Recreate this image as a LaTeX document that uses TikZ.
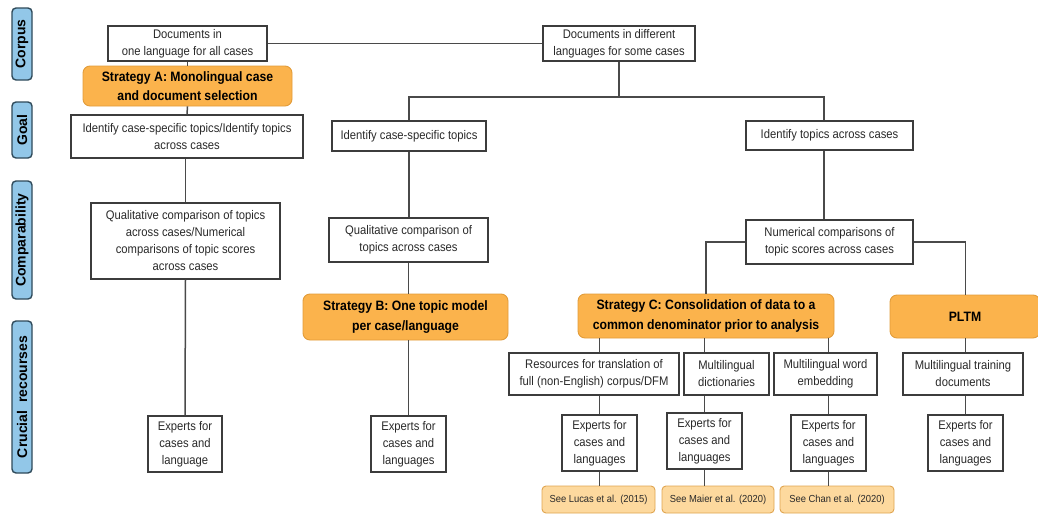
\documentclass[tikz,border=0pt]{standalone}
\usepackage{fontspec}
\setmainfont{Liberation Sans}[FakeStretch=0.9]
\newfontfamily\sidefont{Liberation Sans}
\newfontfamily\citefont{Liberation Sans}[FakeStretch=0.92]
\usetikzlibrary{calc}
\definecolor{orfill}{HTML}{FBB34C}
\definecolor{ordraw}{HTML}{E29C3A}
\definecolor{citfill}{HTML}{FDD99E}
\definecolor{citdraw}{HTML}{E0A550}
\definecolor{bluefill}{HTML}{92C7E8}
\definecolor{bluedraw}{HTML}{2F4A5A}
\definecolor{boxdraw}{HTML}{3C3C3C}
\definecolor{linecol}{HTML}{4A4A4A}
\definecolor{txt}{HTML}{2A2A2A}
\tikzset{
  box/.style={draw=boxdraw, line width=1.4pt, fill=white, inner sep=0pt, align=center,
    text=txt, font=\fontsize{12.5}{17}\selectfont},
  strat/.style={draw=ordraw, line width=0.9pt, fill=orfill, rounded corners=7pt, inner sep=0pt,
    align=center, text=black, font=\fontsize{13.6}{19.5}\selectfont\bfseries},
  cite/.style={draw=citdraw, line width=0.9pt, fill=citfill, rounded corners=4pt, inner sep=0pt,
    align=center, text=txt, font=\citefont\fontsize{10.2}{12}\selectfont},
  side/.style={draw=bluedraw, line width=1.4pt, fill=bluefill, rounded corners=4pt, inner sep=0pt,
    rotate=90, minimum height=20pt, text=black, font=\sidefont\fontsize{14}{16}\selectfont\bfseries},
  conn/.style={draw=linecol, line width=1.5pt}
}
\begin{document}
\begin{tikzpicture}[x=1pt,y=-1pt]
\clip (0,0) rectangle (1038,514);
\fill[white] (0,0) rectangle (1038,514);

% side labels
\node[side, minimum width=72pt] (lcorpus) at (22,44) {Corpus};
\node[side, minimum width=56pt] (lgoal) at (22,130) {Goal};
\node[side, minimum width=118pt] (lcomp) at (22,240) {Comparability};
\node[side, minimum width=152pt] (lcruc) at (22,397) {Crucial~~recourses};

% corpus row
\node[box, minimum width=159pt, minimum height=35pt] (docone) at (187.5,43.5) {Documents in\\one language for all cases};
\node[box, minimum width=152pt, minimum height=35pt] (docdiff) at (619,43.5) {Documents in different\\languages for some cases};

% strategy A column
\node[strat, minimum width=209pt, minimum height=40pt] (stratA) at (187.5,86) {Strategy A: Monolingual case\\and document selection};
\node[box, minimum width=232pt, minimum height=43pt] (goalA) at (187,136.5) {Identify case-specific topics/Identify topics\\across cases};
\node[box, minimum width=189pt, minimum height=76pt] (compA) at (185.5,241) {Qualitative comparison of topics\\across cases/Numerical\\comparisons of topic scores\\across cases};
\node[box, minimum width=74pt, minimum height=56pt] (expA) at (185,444) {Experts for\\cases and\\language};

% strategy B column
\node[box, minimum width=154pt, minimum height=30pt] (goalB) at (409,136) {Identify case-specific topics};
\node[box, minimum width=159pt, minimum height=44pt] (compB) at (408.5,240) {Qualitative comparison of\\topics across cases};
\node[strat, minimum width=205pt, minimum height=46pt] (stratB) at (405.5,317) {Strategy B: One topic model\\per case/language};
\node[box, minimum width=75pt, minimum height=56pt] (expB) at (408.5,444) {Experts for\\cases and\\languages};

% across cases column
\node[box, minimum width=167pt, minimum height=29pt] (goalC) at (829.5,135.5) {Identify topics across cases};
\node[box, minimum width=167pt, minimum height=44pt] (numC) at (829.5,242) {Numerical comparisons of\\topic scores across cases};
\node[strat, minimum width=256pt, minimum height=44pt] (stratC) at (706,316) {Strategy C: Consolidation of data to a\\common denominator prior to analysis};
\node[strat, minimum width=150pt, minimum height=43pt, text width=144pt] (pltm) at (965,316.5) {PLTM};

\node[box, minimum width=170pt, minimum height=42pt] (resC) at (594,374) {Resources for translation of\\full (non-English) corpus/DFM};
\node[box, minimum width=85pt, minimum height=42pt] (dictC) at (726.5,374) {Multilingual\\dictionaries};
\node[box, minimum width=103pt, minimum height=42pt] (embC) at (825.5,374) {Multilingual word\\embedding};
\node[box, minimum width=120pt, minimum height=42pt] (trainP) at (963,374) {Multilingual training\\documents};

\node[box, minimum width=75pt, minimum height=56pt] (expC1) at (599.5,443) {Experts for\\cases and\\languages};
\node[box, minimum width=75pt, minimum height=56pt] (expC2) at (704.5,441) {Experts for\\cases and\\languages};
\node[box, minimum width=75pt, minimum height=56pt] (expC3) at (828.5,443) {Experts for\\cases and\\languages};
\node[box, minimum width=75pt, minimum height=56pt] (expP) at (965.5,443) {Experts for\\cases and\\languages};

\node[cite, minimum width=113pt, minimum height=27pt] (lucas) at (598.5,499.5) {See Lucas et al. (2015)};
\node[cite, minimum width=112pt, minimum height=27pt] (maier) at (718,499.5) {See Maier et al. (2020)};
\node[cite, minimum width=114pt, minimum height=27pt] (chan) at (837,499.5) {See Chan et al. (2020)};

\coordinate (br) at (619,97);
\coordinate (vC) at (824,0);

% connectors
\begin{scope}[on background layer/.try]
\end{scope}
\draw[conn] (docone.east) -- (docdiff.west);
\draw[conn] (docone.south) -- (stratA.north);
\draw[conn] (stratA.south) -- (goalA.north);
\draw[conn] (goalA.south -| compA) -- (compA.north);
\draw[conn] (compA.south) -- (expA.north);

\draw[conn] (docdiff.south) -- (br);
\draw[conn] (goalB.north) |- (br) -| (goalC.north -| vC);
\draw[conn] (goalB.south) -- (goalB.south |- compB.north);
\draw[conn] (compB.south) -- (compB.south |- stratB.north);
\draw[conn] (stratB.south -| compB) -- (expB.north -| compB);

\draw[conn] (goalC.south -| vC) -- (numC.north -| vC);
\draw[conn] (numC.west) -| (stratC.north);
\draw[conn] (numC.east) -| (pltm.north -| expP);

\draw[conn] (stratC.south -| expC1) -- (resC.north -| expC1);
\draw[conn] (stratC.south -| expC2) -- (dictC.north -| expC2);
\draw[conn] (stratC.south -| expC3) -- (embC.north -| expC3);
\draw[conn] (pltm.south -| expP) -- (trainP.north -| expP);

\draw[conn] (resC.south -| expC1) -- (expC1.north);
\draw[conn] (dictC.south -| expC2) -- (expC2.north);
\draw[conn] (embC.south -| expC3) -- (expC3.north);
\draw[conn] (trainP.south -| expP) -- (expP.north);

\draw[conn] (expC1.south) -- (lucas.north -| expC1);
\draw[conn] (expC2.south) -- (maier.north -| expC2);
\draw[conn] (expC3.south) -- (chan.north -| expC3);
\end{tikzpicture}
\end{document}
